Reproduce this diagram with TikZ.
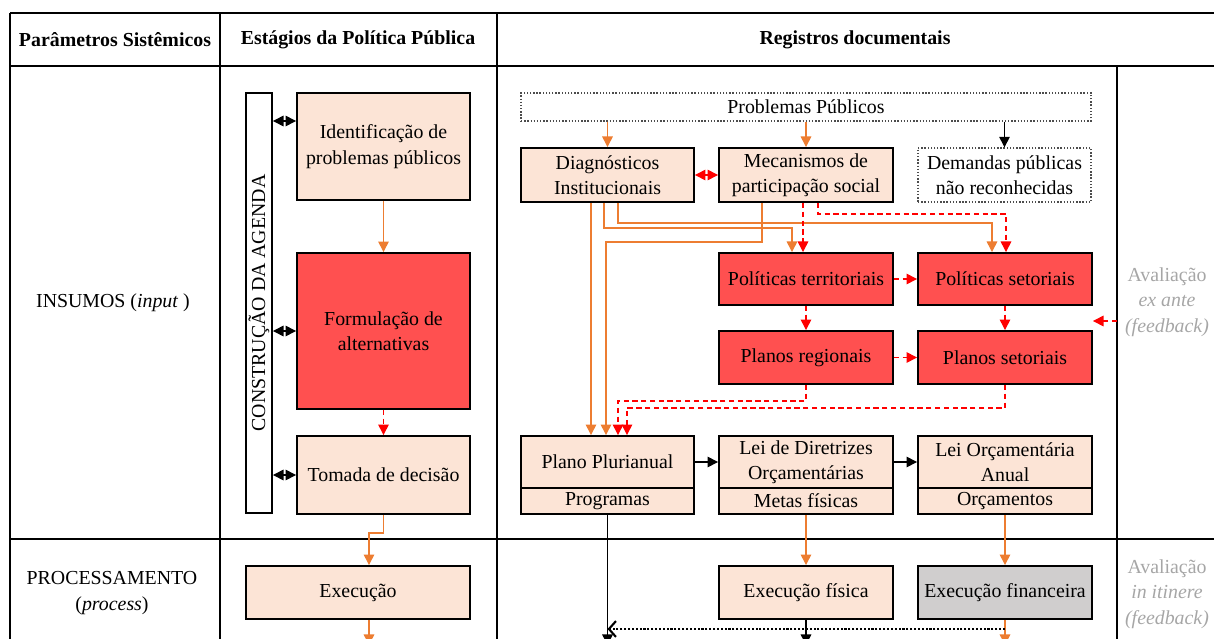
\documentclass[tikz,border=0pt]{standalone}
\usepackage{fontspec}
\setmainfont{Liberation Serif}
\usetikzlibrary{arrows.meta}

\definecolor{peach}{HTML}{FCE4D6}
\definecolor{polred}{HTML}{FF5050}
\definecolor{execgray}{HTML}{D0CECE}
\definecolor{orangeln}{HTML}{ED7D31}
\definecolor{evalgray}{HTML}{A6A6A6}

\begin{document}
\fontsize{11.3}{14.5}\selectfont
\begin{tikzpicture}[x=0.02cm,y=-0.02cm,
  box/.style={draw,line width=1.1pt,fill=peach,align=center,inner sep=0pt},
  redbox/.style={box,fill=polred},
  dotbox/.style={draw=black!70,densely dotted,line width=0.8pt,fill=white,align=center,inner sep=0pt},
  grid/.style={line width=1.1pt},
  hdr/.style={font=\bfseries},
  evaltext/.style={text=evalgray,align=center},
  oarr/.style={draw=orangeln,line width=0.8pt,-{Triangle[length=6pt,width=6pt]}},
  rarr/.style={draw=red,line width=0.8pt,dash pattern=on 3pt off 2pt,-{Triangle[length=6pt,width=6pt]}},
  rdarr/.style={rarr,{Triangle[length=6pt,width=6pt]}-{Triangle[length=6pt,width=6pt]}},
  barr/.style={line width=0.8pt,-{Triangle[length=6pt,width=6pt]}},
  bdarr/.style={line width=0.8pt,{Triangle[length=6pt,width=6pt]}-{Triangle[length=6pt,width=6pt]}}]
\useasboundingbox (0,0) rectangle (1214,639);
\clip (0,0) rectangle (1214,639);

\draw[grid] (10,13) -- (1220,13);
\draw[grid] (10,66) -- (1220,66);
\draw[grid] (10,539) -- (1220,539);
\draw[grid] (10,13) -- (10,650);
\draw[grid] (220,13) -- (220,650);
\draw[grid] (497,13) -- (497,650);
\draw[grid] (1117,66) -- (1117,650);

\node[hdr] (h1) at (115,40) {Parâmetros Sistêmicos};
\node[hdr] (h2) at (358,40) {Estágios da Política Pública};
\node[hdr] (h3) at (855,40) {Registros documentais};
\node (ins) at (113,303) {INSUMOS (\textit{input} )};
\node[align=center] (proc) at (112,593) {PROCESSAMENTO\\(\textit{process})};
\node[evaltext] (ev1) at (1167,302) {Avaliação\\\textit{ex ante}\\\textit{(feedback)}};
\node[evaltext] (ev2) at (1167,594) {Avaliação\\\textit{in itinere}\\\textit{(feedback)}};

\node[draw,line width=1.1pt,fill=white,minimum width=0.52cm,minimum height=8.4cm,inner sep=0pt] (ag) at (259,303) {};
\node[rotate=90] (agtext) at (ag.center) {CONSTRUÇÃO DA AGENDA};
\node[box,minimum width=3.46cm,minimum height=2.14cm] (id) at (383.5,146.5) {Identificação de\\problemas públicos};
\node[redbox,minimum width=3.46cm,minimum height=3.12cm] (fo) at (383.5,331) {Formulação de\\alternativas};
\node[box,minimum width=3.46cm,minimum height=1.56cm] (td) at (383.5,475) {Tomada de decisão};
\node[box,minimum width=4.48cm,minimum height=1.06cm] (ex) at (358,592.5) {Execução};

\node[dotbox,minimum width=11.4cm,minimum height=0.56cm] (pp) at (806,107) {Problemas Públicos};
\node[box,minimum width=3.46cm,minimum height=1.08cm] (dg) at (607.5,175) {Diagnósticos\\Institucionais};
\node[box,minimum width=3.48cm,minimum height=1.08cm] (mp) at (806,175) {Mecanismos de\\participação social};
\node[dotbox,minimum width=3.46cm,minimum height=1.08cm] (dn) at (1004.5,175) {Demandas públicas\\não reconhecidas};
\node[redbox,minimum width=3.48cm,minimum height=1.04cm] (pt) at (806,279) {Políticas territoriais};
\node[redbox,minimum width=3.48cm,minimum height=1.04cm] (ps) at (1005,279) {Políticas setoriais};
\node[redbox,minimum width=3.48cm,minimum height=1.06cm] (pr) at (806,357.5) {Planos regionais};
\node[redbox,minimum width=3.48cm,minimum height=1.06cm] (pst) at (1005,357.5) {Planos setoriais};

\node[box,minimum width=3.46cm,minimum height=1.04cm] (ppa) at (607.5,462) {Plano Plurianual};
\node[box,minimum width=3.46cm,minimum height=0.52cm] (prog) at (607.5,501) {Programas};
\node[box,minimum width=3.48cm,minimum height=1.04cm] (ldo) at (806,462) {Lei de Diretrizes\\Orçamentárias};
\node[box,minimum width=3.48cm,minimum height=0.52cm] (metas) at (806,501) {Metas físicas};
\node[box,minimum width=3.48cm,minimum height=1.04cm] (loa) at (1005,462) {Lei Orçamentária\\Anual};
\node[box,minimum width=3.48cm,minimum height=0.52cm] (orc) at (1005,501) {Orçamentos};
\node[box,minimum width=3.48cm,minimum height=1.06cm] (ef) at (806,592.5) {Execução física};
\node[box,fill=execgray,minimum width=3.48cm,minimum height=1.06cm] (efin) at (1005,592.5) {Execução financeira};

\coordinate (fb) at (1117,321);
\coordinate (exend) at (369,645);
\coordinate (progend) at (607.5,645);
\coordinate (efend) at (806,645);
\coordinate (efinend) at (1005,645);
\coordinate (dotstart) at (1005,629);

\draw[bdarr] (ag.east |- 0,121) -- (id.west |- 0,121);
\draw[bdarr] (ag.east |- fo.west) -- (fo.west);
\draw[bdarr] (ag.east |- td.west) -- (td.west);
\draw[oarr] (id) -- (fo);
\draw[rarr] (fo) -- (td);
\draw[oarr] (td.south) |- (369,533) -- (369,0 |- ex.north);
\draw[oarr] (369,0 |- ex.south) -- (exend);

\draw[oarr] (pp.south -| dg.north) -- (dg.north);
\draw[oarr] (pp.south -| mp.north) -- (mp.north);
\draw[barr] (pp.south -| dn.north) -- (dn.north);
\draw[rdarr] (dg.east) -- (mp.west);

\draw[oarr] (591,0 |- dg.south) -- (591,0 |- ppa.north);
\draw[oarr] (604,0 |- dg.south) |- (792,228) -- (792,0 |- pt.north);
\draw[oarr] (618,0 |- dg.south) |- (992,223) -- (992,0 |- ps.north);
\draw[oarr] (762,0 |- mp.south) |- (606,242) -- (606,0 |- ppa.north);
\draw[rarr] (803,0 |- mp.south) -- (803,0 |- pt.north);
\draw[rarr] (818,0 |- mp.south) |- (1006,214) -- (1006,0 |- ps.north);

\draw[rarr] (pt) -- (ps);
\draw[rarr] (pr) -- (pst);
\draw[rarr] (pt) -- (pr);
\draw[rarr] (ps) -- (pst);
\draw[rarr] (pr.south) |- (618,401) -- (618,0 |- ppa.north);
\draw[rarr] (pst.south) |- (627,408) -- (627,0 |- ppa.north);
\draw[rarr] (fb) -- (pst.east |- fb);

\draw[barr] (ppa) -- (ldo);
\draw[barr] (ldo) -- (loa);
\draw[oarr] (metas) -- (ef);
\draw[oarr] (orc) -- (efin);
\draw[barr] (prog) -- (progend);
\draw[barr] (ef) -- (efend);
\draw[oarr] (efin) -- (efinend);
\draw[densely dotted,line width=1.2pt,-{Straight Barb[length=4pt,width=9pt]}] (dotstart) -- (prog.south |- dotstart);
\end{tikzpicture}
\end{document}
